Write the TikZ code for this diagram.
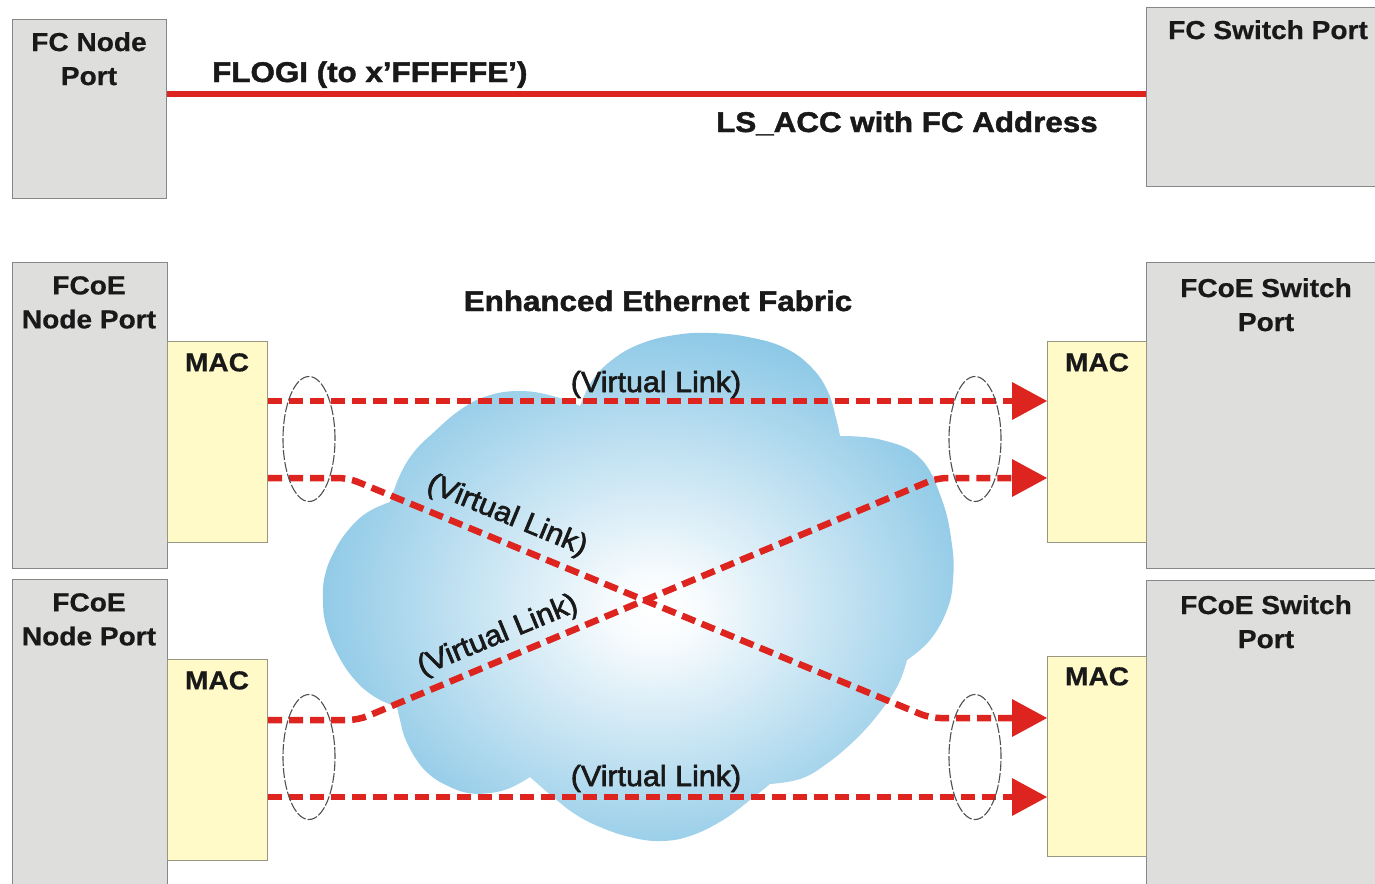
\documentclass[tikz,border=0pt]{standalone}
\usepackage{fontspec}
\setmainfont{Liberation Sans}
\newfontfamily\headfont{Liberation Sans}[FakeStretch=1.1,FakeBold=1.6]
\newfontfamily\boxfont{Liberation Sans}[FakeStretch=1.08,FakeBold=0.6]
\newfontfamily\linkfont{Liberation Sans}[FakeStretch=1.05,FakeBold=2.2]
\usetikzlibrary{arrows.meta,calc,shapes.geometric}

\definecolor{boxgray}{RGB}{222,222,221}
\definecolor{boxedge}{RGB}{135,135,135}
\definecolor{macfill}{RGB}{255,250,200}
\definecolor{macedge}{RGB}{150,150,130}
\definecolor{linkred}{RGB}{221,36,30}
\definecolor{cloudblue}{RGB}{140,200,230}
\definecolor{inkblack}{RGB}{25,25,25}
\definecolor{ringgray}{RGB}{80,80,80}

% soft white centre fading to blue at the rim of the fabric cloud
\pgfdeclareradialshading{cloudshade}{\pgfpoint{1.5bp}{-2.5bp}}{%
  color(0bp)=(white); color(3bp)=(white!95!cloudblue);
  color(27bp)=(cloudblue); color(50bp)=(cloudblue)}

\begin{document}
\begin{tikzpicture}[x=1pt,y=-1pt,
  port/.style={draw=boxedge,line width=1.4pt,fill=boxgray,inner sep=0pt,anchor=north west},
  macbox/.style={draw=macedge,line width=1.2pt,fill=macfill,inner sep=0pt,anchor=north west},
  porttext/.style={font=\boxfont\bfseries\fontsize{26}{34}\selectfont,text=inkblack,
    align=center,inner sep=0pt,anchor=north},
  headtext/.style={font=\headfont\bfseries\fontsize{28.5}{32}\selectfont,text=inkblack,inner sep=0pt},
  linktext/.style={font=\linkfont\fontsize{29}{34}\selectfont,text=inkblack,inner sep=0pt},
  vlink/.style={draw=linkred,line width=6.5pt,dash pattern=on 14pt off 7pt,
    rounded corners=10pt,-{Triangle[length=35pt,width=38pt,line width=0pt]}},
  group/.style={ellipse,draw=ringgray,line width=1.1pt,dash pattern=on 10pt off 2pt,
    minimum width=52pt,minimum height=125pt,inner sep=0pt}
]
\useasboundingbox (0,0) rectangle (1375,883);
\fill[white] (0,0) rectangle (1375,883);

% Enhanced Ethernet Fabric cloud
\shade[shading=cloudshade]
  plot[smooth,tension=0.7] coordinates {(580,406) (592,381) (612,360) (640,344) (675,335) (710,333) (748,337) (785,348) (812,368) (828,392) (836,418) (840,436)}
  -- plot[smooth,tension=0.7] coordinates {(840,436) (882,440) (920,458) (942,500) (952,545) (953,580) (947,610) (930,640) (907,660)}
  -- plot[smooth,tension=0.7] coordinates {(907,660) (898,685) (880,712) (855,740) (825,765) (800,779) (770,784)}
  -- plot[smooth,tension=0.7] coordinates {(770,784) (750,800) (723,820) (690,836) (660,841) (630,837) (600,827) (575,814) (553,797) (530,777)}
  -- plot[smooth,tension=0.7] coordinates {(530,777) (510,788) (490,793) (468,793) (448,786) (430,775) (416,759) (405,738) (400,720) (397,707)}
  -- plot[smooth,tension=0.7] coordinates {(397,707) (375,697) (355,680) (338,655) (326,625) (323,600) (325,575) (335,550) (350,528) (368,512) (390,502)}
  -- plot[smooth,tension=0.7] coordinates {(390,502) (400,475) (414,452) (433,433) (460,410) (487,396) (520,391) (553,396) (580,406)}
  -- cycle;

% ports
\node[port,minimum width=154pt,minimum height=179pt] (fcn) at (12,19) {};
\node[port,minimum width=232pt,minimum height=179pt] (fcs) at (1146,7) {};
\node[port,minimum width=155pt,minimum height=306pt] (fneA) at (12,262) {};
\node[port,minimum width=155pt,minimum height=310pt] (fneB) at (12,579) {};
\node[port,minimum width=232pt,minimum height=306pt] (fseA) at (1146,262) {};
\node[port,minimum width=232pt,minimum height=310pt] (fseB) at (1146,580) {};

% MAC blocks
\node[macbox,minimum width=100pt,minimum height=201pt] (macLA) at (167,341) {};
\node[macbox,minimum width=100pt,minimum height=201pt] (macLB) at (167,659) {};
\node[macbox,minimum width=99pt,minimum height=201pt] (macRA) at (1047,341) {};
\node[macbox,minimum width=99pt,minimum height=200pt] (macRB) at (1047,656) {};

% port labels
\node[porttext] (fcnT) at (89,32) {FC Node\\Port};
\node[porttext] (fcsT) at (1268,20) {FC Switch Port};
\node[porttext] (fneAT) at (89,276) {FCoE\\Node Port};
\node[porttext] (fneBT) at (89,593) {FCoE\\Node Port};
\node[porttext] (fseAT) at (1266,278) {FCoE Switch\\Port};
\node[porttext] (fseBT) at (1266,595) {FCoE Switch\\Port};
\node[porttext] (macLAT) at (217,353) {MAC};
\node[porttext] (macLBT) at (217,671) {MAC};
\node[porttext] (macRAT) at (1097,353) {MAC};
\node[porttext] (macRBT) at (1097,667) {MAC};

% native FC login exchange
\draw[linkred,line width=6pt] ($(fcn.north east)+(0,75)$) -- ($(fcs.north west)+(0,87)$);
\node[headtext,anchor=base west] (flogi) at (212,82) {FLOGI (to x’FFFFFE’)};
\node[headtext,anchor=base west] (lsacc) at (716,132) {LS\_ACC with FC Address};
\node[headtext,anchor=base] (eef) at (658,311) {Enhanced Ethernet Fabric};

% virtual links across the fabric
\draw[vlink] ($(macLA.north east)+(0,60)$) -- ($(macRA.north west)+(0,60)$);
\draw[vlink] ($(macLA.north east)+(0,137)$) -- ++(80,0)
  -- ($(macRB.north west)+(-117,62)$) -- ($(macRB.north west)+(0,62)$);
\draw[vlink] ($(macLB.north east)+(0,61)$) -- ++(90,0)
  -- ($(macRA.north west)+(-110,137)$) -- ($(macRA.north west)+(0,137)$);
\draw[vlink] ($(macLB.north east)+(0,138)$) -- ($(macRB.north west)+(0,141)$);

\node[linktext,anchor=base] (vlA) at (656,392) {(Virtual Link)};
\node[linktext,rotate=-22.5] (vlB) at (507,516) {(Virtual Link)};
\node[linktext,rotate=22.5] (vlC) at (498,636) {(Virtual Link)};
\node[linktext,anchor=base] (vlD) at (656,786) {(Virtual Link)};

% link groupings at each MAC
\node[group] (gLA) at (309,439) {};
\node[group] (gRA) at (975,439) {};
\node[group] (gLB) at (309,757) {};
\node[group] (gRB) at (975,757) {};
\end{tikzpicture}
\end{document}
